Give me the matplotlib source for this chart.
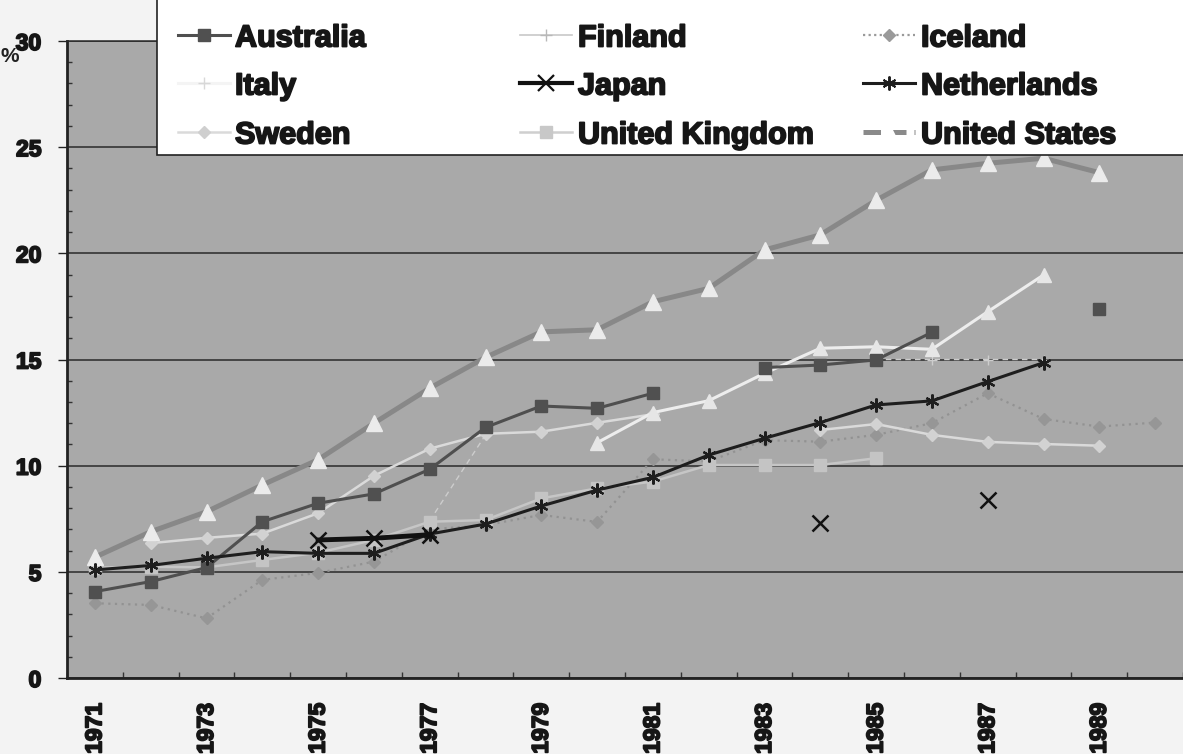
import numpy as np
import matplotlib
matplotlib.use("Agg")
import matplotlib.pyplot as plt
import matplotlib.patheffects as pe
from matplotlib.lines import Line2D
from matplotlib.patches import Rectangle
from matplotlib.ticker import MultipleLocator, FixedLocator

nan = np.nan
years = list(range(1971, 1991))
year_labels = [str(y) if y % 2 == 1 else "" for y in years]
y_ticks = [0, 5, 10, 15, 20, 25, 30]

australia = [4.07, 4.54, 5.2, 7.36, 8.23, 8.67, 9.83, 11.8, 12.81, 12.7,
             13.41, nan, 14.62, 14.74, 14.98, 16.28, nan, nan, 17.38, nan]
finland = [nan, nan, nan, nan, nan, nan, 7.4, 11.45, nan, nan,
           nan, nan, nan, nan, 15.0, 15.0, 15.0, 15.0, nan, nan]
iceland = [3.52, 3.44, 2.81, 4.62, 4.95, 5.48, 7.0, 7.2, 7.68, 7.35,
           10.3, 10.2, 11.2, 11.13, 11.45, 12.0, 13.41, 12.2, 11.84, 12.03]
italy = [nan, nan, nan, nan, nan, nan, nan, nan, nan, 11.08,
         12.5, 13.06, 14.35, 15.53, 15.6, 15.48, 17.25, 18.98, nan, nan]
japan = [nan, nan, nan, nan, 6.5, 6.58, 6.75, nan, nan, nan,
         nan, nan, nan, 7.3, nan, nan, 8.38, nan, nan, nan]
netherlands = [5.09, 5.3, 5.64, 5.95, 5.87, 5.87, 6.78, 7.25, 8.1, 8.85,
               9.45, 10.5, 11.29, 12.03, 12.86, 13.05, 13.96, 14.85, nan, nan]
sweden = [nan, 6.35, 6.6, 6.8, 7.76, 9.52, 10.8, 11.5, 11.6, 12.02,
          12.42, nan, nan, 11.68, 11.96, 11.45, 11.12, 11.02, 10.94, nan]
uk = [5.2, 5.24, 5.21, 5.56, 5.9, 6.5, 7.36, 7.44, 8.46, 8.93,
      9.25, 10.03, 10.03, 10.03, 10.35, nan, nan, nan, nan, nan]
usa = [5.69, 6.89, 7.83, 9.09, 10.28, 12.0, 13.65, 15.1, 16.3, 16.4,
       17.72, 18.35, 20.16, 20.87, 22.5, 23.93, 24.24, 24.48, 23.8, nan]

W, H = 1183, 754
fig = plt.figure(figsize=(W / 100, H / 100), dpi=100)
fig.patch.set_facecolor("#f3f3f3")
ax = fig.add_axes([67 / W, 1 - 678 / H, (1183 - 67) / W, (678 - 41) / H])
ax.set_facecolor("#a9a9a9")

x = np.arange(len(years))
FONT = "Liberation Sans"
heavy = [pe.withStroke(linewidth=1.3, foreground="#161616")]

# series
ax.plot(x, iceland, color="#929292", lw=1.6, ls=(0, (1, 2)), marker="D", ms=6,
        mfc="#969696", mec="#969696", zorder=3)
ax.plot(x, finland, color="#cdcdcd", lw=1.0, ls=(0, (4, 3)), marker="+", ms=7,
        mec="#cdcdcd", zorder=3)
ax.plot(x, uk, color="#c6c6c6", lw=1.8, marker="s", ms=9,
        mfc="#c4c4c4", mec="#c4c4c4", zorder=4)
ax.plot(x, sweden, color="#dadada", lw=1.8, marker="D", ms=6.5,
        mfc="#d2d2d2", mec="#d2d2d2", zorder=4)
ax.plot(x, italy, color="#ededed", lw=2.2, marker="^", ms=10,
        mfc="#e6e6e6", mec="#e6e6e6", zorder=5)
ax.plot(x, australia, color="#4f4f4f", lw=2.2, marker="s", ms=8.5,
        mfc="#505050", mec="#505050", zorder=6)
ax.plot(x, netherlands, color="#1e1e1e", lw=2.2, marker=(6, 2, 0), ms=10,
        mec="#1e1e1e", mew=1.6, zorder=7)
ax.plot(x, japan, color="#111111", lw=3.5, marker="x", ms=11,
        mec="#111111", mew=1.8, zorder=8)
ax.plot(x, usa, color="#888888", lw=3.6, marker="^", ms=12,
        mfc="#ebebeb", mec="#ebebeb", zorder=5)

ax.set_xlim(-0.5, len(years) - 0.5)
ax.set_ylim(0, 30)
ax.set_yticks(y_ticks)
ax.yaxis.set_minor_locator(MultipleLocator(1))
ax.set_yticklabels([str(v) for v in y_ticks], fontfamily=FONT,
                   fontweight="bold", fontsize=16.5, color="#161616")
ax.tick_params(axis="y", which="major", direction="out", length=6.5,
               width=1, pad=12, color="#222222")
ax.tick_params(axis="y", which="minor", direction="in", length=3.5,
               width=1, color="#333333")
ax.grid(axis="y", which="major", color="#2a2a2a", lw=1.1, zorder=2)
ax.set_axisbelow(True)

ax.set_xticks(x)
ax.set_xticklabels(year_labels, rotation=90, fontfamily=FONT,
                   fontweight="bold", fontsize=16.5, va="top", color="#161616")
ax.tick_params(axis="x", which="major", length=0, pad=18)
ax.xaxis.set_minor_locator(FixedLocator(np.arange(-0.5, len(years), 1)))
ax.tick_params(axis="x", which="minor", direction="in", length=4.5,
               width=1, color="#333333")
for lab in ax.get_xticklabels() + ax.get_yticklabels():
    lab.set_path_effects(heavy)

ax.spines["right"].set_visible(False)
ax.spines["top"].set_linewidth(1.1)
ax.spines["top"].set_color("#2a2a2a")
ax.spines["left"].set_linewidth(2)
ax.spines["left"].set_color("#222222")
ax.spines["bottom"].set_linewidth(2)
ax.spines["bottom"].set_color("#222222")

fig.text(10 / W, 1 - 56 / H, "%", ha="center", va="center",
         fontsize=15, fontweight="bold", fontfamily=FONT, color="#222222")

# legend box
fig.add_artist(Rectangle((157 / W, 1 - 155 / H), 1.1, 0.5,
                         transform=fig.transFigure, facecolor="white",
                         edgecolor="#222222", lw=1.2, zorder=20, clip_on=False))

names = ["Australia", "Finland", "Iceland",
         "Italy", "Japan", "Netherlands",
         "Sweden", "United Kingdom", "United States"]
styles = [
    dict(color="#4f4f4f", lw=2.2, marker="s", ms=8.5, mfc="#505050", mec="#505050"),
    dict(color="#c8c8c8", lw=1.2, marker="+", ms=9, mec="#b8b8b8"),
    dict(color="#9a9a9a", lw=1.6, ls=(0, (1, 1.5)), marker="D", ms=6, mfc="#9a9a9a", mec="#9a9a9a"),
    dict(color="#f4f4f4", lw=2.2, marker="+", ms=9, mec="#d8d8d8"),
    dict(color="#111111", lw=3.0, marker="x", ms=11, mec="#111111", mew=1.6),
    dict(color="#1e1e1e", lw=2.2, marker=(6, 2, 0), ms=10, mec="#1e1e1e", mew=1.4),
    dict(color="#dadada", lw=1.8, marker="D", ms=6.5, mfc="#cfcfcf", mec="#cfcfcf"),
    dict(color="#cfcfcf", lw=1.8, marker="s", ms=9, mfc="#c8c8c8", mec="#c8c8c8"),
    dict(color="#8a8a8a", lw=3.6, ls=(0, (3.5, 1.6)), marker="^", ms=12, mfc="white", mec="white"),
]
col_handle = [(178, 230), (520, 572), (863, 915)]
col_text = [235, 578, 921]
row_y = [35, 83, 132]
for i, (name, st) in enumerate(zip(names, styles)):
    r, c = divmod(i, 3)
    x0, x1 = col_handle[c]
    yy = 1 - row_y[r] / H
    fig.add_artist(Line2D([x0 / W, (x0 + x1) / 2 / W, x1 / W], [yy, yy, yy],
                          transform=fig.transFigure, markevery=[1],
                          zorder=21, **st))
    t = fig.text(col_text[c] / W, yy, name, ha="left", va="center_baseline",
                 fontsize=22, fontweight="bold", fontfamily=FONT,
                 color="#161616", zorder=22)
    t.set_path_effects(heavy)

fig.savefig("out.png", dpi=100, facecolor=fig.get_facecolor())
